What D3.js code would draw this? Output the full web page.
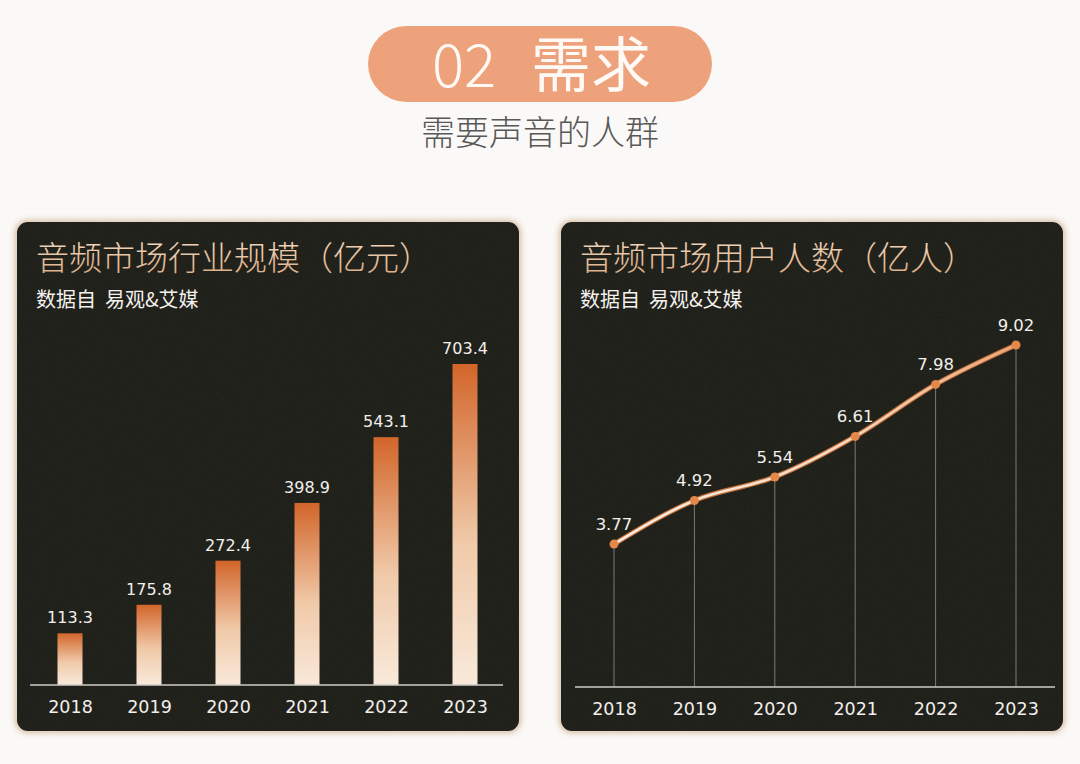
<!DOCTYPE html>
<html>
<head>
<meta charset="utf-8">
<script src="https://cdn.jsdelivr.net/npm/d3@7"></script>
<style>
html,body{margin:0;padding:0;background:#faf9f7;}
svg{display:block;}
</style>
</head>
<body>
<svg id="c" width="1080" height="764"></svg>
<script>
// ---- data ----
const years = ["2018","2019","2020","2021","2022","2023"];
const marketSize = [113.3, 175.8, 272.4, 398.9, 543.1, 703.4];
const userCount = [3.77, 4.92, 5.54, 6.61, 7.98, 9.02];
const sizeLabels = ["113.3","175.8","272.4","398.9","543.1","703.4"];
const userLabels = ["3.77","4.92","5.54","6.61","7.98","9.02"];
const headerNum = "02";
const headerWord = "需求";
const headerSub = "需要声音的人群";
const leftTitle = "音频市场行业规模（亿元）";
const rightTitle = "音频市场用户人数（亿人）";
const sourceText = "数据自  易观&艾媒";

const cjk = "'Noto Sans CJK SC','Noto Sans',sans-serif";
const latin = "'DejaVu Sans',Verdana,sans-serif";

const svg = d3.select("#c");
const defs = svg.append("defs");

// noise texture
const nf = defs.append("filter").attr("id","noise").attr("x",0).attr("y",0).attr("width","100%").attr("height","100%");
nf.append("feTurbulence").attr("type","fractalNoise").attr("baseFrequency",0.9).attr("numOctaves",2).attr("seed",3).attr("result","t");
nf.append("feColorMatrix").attr("in","t").attr("type","matrix")
  .attr("values","0 0 0 0 0.5  0 0 0 0 0.5  0 0 0 0 0.5  0 0 0 0.18 0").attr("result","n");
nf.append("feComposite").attr("in","n").attr("in2","SourceGraphic").attr("operator","in");

// panel glow
const gf = defs.append("filter").attr("id","glow").attr("x","-5%").attr("y","-5%").attr("width","110%").attr("height","110%");
gf.append("feGaussianBlur").attr("in","SourceAlpha").attr("stdDeviation",3).attr("result","b");
gf.append("feFlood").attr("flood-color","#d9c2a8").attr("result","f");
gf.append("feComposite").attr("in","f").attr("in2","b").attr("operator","in").attr("result","s");
const fm = gf.append("feMerge");
fm.append("feMergeNode").attr("in","s");
fm.append("feMergeNode").attr("in","SourceGraphic");

// bar gradient
const bg = defs.append("linearGradient").attr("id","barGrad").attr("x1",0).attr("y1",0).attr("x2",0).attr("y2",1);
bg.append("stop").attr("offset","0").attr("stop-color","#d2652a");
bg.append("stop").attr("offset","0.55").attr("stop-color","#f0c9a8");
bg.append("stop").attr("offset","1").attr("stop-color","#f9e9da");

// title gradient
const tg = defs.append("linearGradient").attr("id","titleGrad").attr("x1",0).attr("y1",0).attr("x2",0).attr("y2",1);
tg.append("stop").attr("offset","0").attr("stop-color","#f6e0c8");
tg.append("stop").attr("offset","1").attr("stop-color","#d9a97e");

// line gradient
const lg = defs.append("linearGradient").attr("id","lineGrad").attr("gradientUnits","userSpaceOnUse")
  .attr("x1",614).attr("y1",0).attr("x2",1016).attr("y2",0);
lg.append("stop").attr("offset","0").attr("stop-color","#f7eee6");
lg.append("stop").attr("offset","0.6").attr("stop-color","#f3d9c0");
lg.append("stop").attr("offset","1").attr("stop-color","#eba77a");

// ---- header ----
svg.append("rect").attr("x",368).attr("y",26).attr("width",344).attr("height",76).attr("rx",38)
  .attr("fill","#eea27c");
svg.append("text").attr("x",464).attr("y",87).attr("text-anchor","middle")
  .attr("font-family",cjk).attr("font-weight",300).attr("font-size",60).attr("fill","#fffaf5").text(headerNum);
svg.append("text").attr("x",591).attr("y",87).attr("text-anchor","middle")
  .attr("font-family",cjk).attr("font-size",60).attr("fill","#fffaf5").text(headerWord);
svg.append("text").attr("x",540).attr("y",145).attr("text-anchor","middle")
  .attr("font-family",cjk).attr("font-weight",300).attr("font-size",34).attr("fill","#585858").text(headerSub);

// ---- panels ----
function panel(x, title) {
  const g = svg.append("g");
  g.append("rect").attr("x",x).attr("y",221).attr("width",504).attr("height",511).attr("rx",12)
    .attr("fill","#1b1a19").attr("stroke","#e6d6c4").attr("stroke-width",2).attr("filter","url(#glow)");
  g.append("rect").attr("x",x).attr("y",221).attr("width",504).attr("height",511).attr("rx",12)
    .attr("fill","#ffffff").attr("filter","url(#noise)").attr("opacity",0.4);
  g.append("text").attr("x",x+20).attr("y",270).attr("font-family",cjk).attr("font-size",33)
    .attr("font-weight",300).attr("fill","url(#titleGrad)").text(title);
  g.append("text").attr("x",x+20).attr("y",307).attr("font-family",cjk).attr("font-size",20)
    .attr("fill","#f4f1ee").attr("xml:space","preserve").text(sourceText);
  return g;
}
const L = panel(16, leftTitle);
const R = panel(560, rightTitle);

// ---- left bar chart ----
const xL = d3.scalePoint().domain(years).range([70, 465]);
const yL = d3.scaleLinear().domain([0, 703.4]).range([685, 364]);
const barW = 25;
L.selectAll("rect.bar").data(years).join("rect").attr("class","bar")
  .attr("x", d => xL(d) - barW/2)
  .attr("y", (d,i) => yL(marketSize[i]))
  .attr("width", barW)
  .attr("height", (d,i) => yL(0) - yL(marketSize[i]))
  .attr("fill","url(#barGrad)");
L.selectAll("text.val").data(years).join("text").attr("class","val")
  .attr("x", d => xL(d)).attr("y", (d,i) => yL(marketSize[i]) - 10)
  .attr("text-anchor","middle").attr("font-family",latin).attr("font-size",16)
  .attr("fill","#f2efec").text((d,i) => sizeLabels[i]);
const axL = L.append("g").attr("transform","translate(0,685)")
  .call(d3.axisBottom(xL).tickSize(0).tickPadding(16));
axL.select(".domain").attr("d","M30,0H503").attr("stroke","#cfcac5").attr("stroke-width",1.5);
axL.selectAll("text").attr("font-family",latin).attr("font-size",17.5).attr("fill","#f2efec");

// ---- right line chart ----
const xR = d3.scalePoint().domain(years).range([614, 1016]);
const yR = d3.scaleLinear().domain([0, 9.02]).range([687, 345]);
R.selectAll("line.drop").data(years).join("line").attr("class","drop")
  .attr("x1", d => xR(d)).attr("x2", d => xR(d))
  .attr("y1", (d,i) => yR(userCount[i])).attr("y2", 687)
  .attr("stroke","#7d7976").attr("stroke-width",1);
const line = d3.line().x((d,i) => xR(years[i])).y(d => yR(d)).curve(d3.curveMonotoneX);
R.append("path").attr("d", line(userCount)).attr("fill","none")
  .attr("stroke","#c8703a").attr("stroke-width",5).attr("stroke-linecap","round");
R.append("path").attr("d", line(userCount)).attr("fill","none")
  .attr("stroke","url(#lineGrad)").attr("stroke-width",2.6).attr("stroke-linecap","round");
R.selectAll("circle.pt").data(userCount).join("circle").attr("class","pt")
  .attr("cx", (d,i) => xR(years[i])).attr("cy", d => yR(d)).attr("r",4.5)
  .attr("fill","#e3874a");
R.selectAll("text.val").data(userCount).join("text").attr("class","val")
  .attr("x", (d,i) => xR(years[i])).attr("y", d => yR(d) - 14)
  .attr("text-anchor","middle").attr("font-family",latin).attr("font-size",16.5)
  .attr("fill","#f2efec").text((d,i) => userLabels[i]);
const axR = R.append("g").attr("transform","translate(0,687)")
  .call(d3.axisBottom(xR).tickSize(0).tickPadding(16));
axR.select(".domain").attr("d","M575,0H1055").attr("stroke","#cfcac5").attr("stroke-width",1.5);
axR.selectAll("text").attr("font-family",latin).attr("font-size",17.5).attr("fill","#f2efec");
</script>
</body>
</html>
